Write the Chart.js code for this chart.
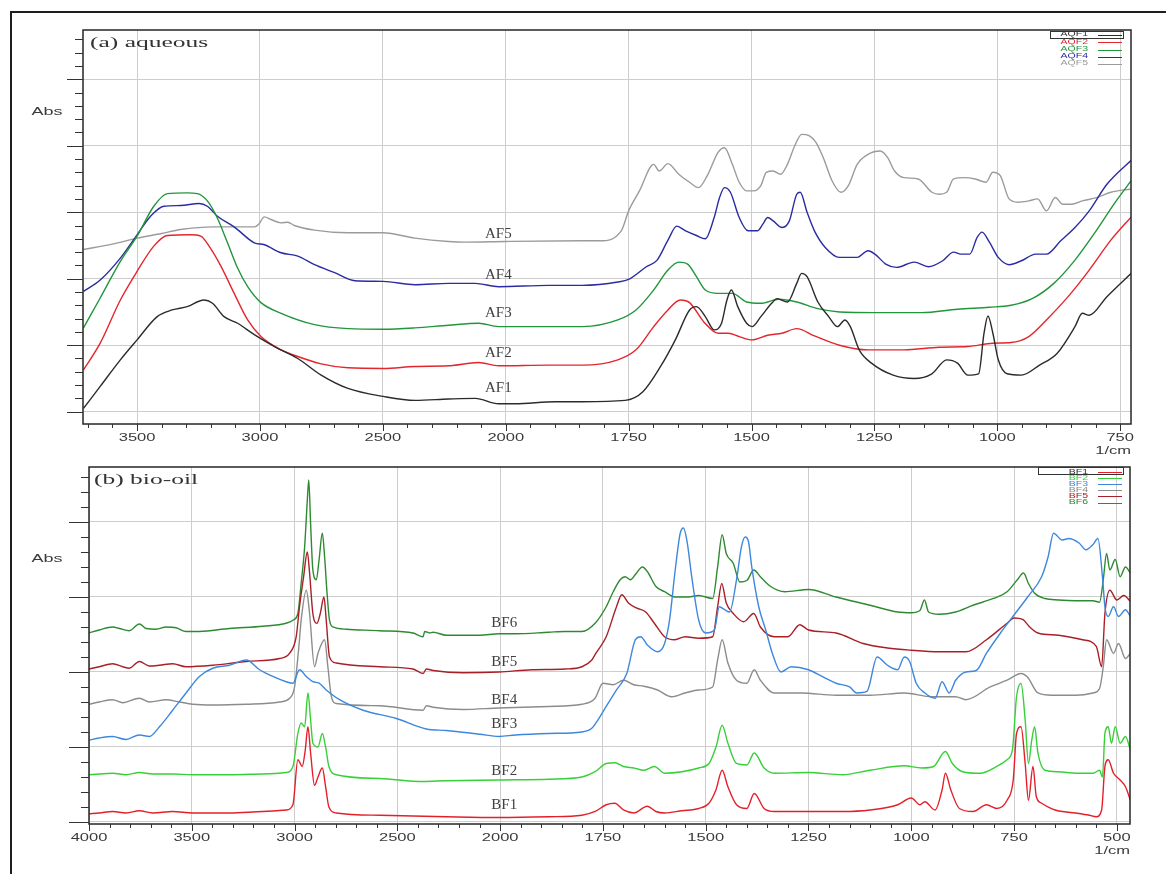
<!DOCTYPE html>
<html>
<head>
<meta charset="utf-8">
<title>FTIR spectra</title>
<script src="https://cdn.jsdelivr.net/npm/chart.js@4.4.1/dist/chart.umd.min.js"></script>
<style>
  html, body { margin: 0; padding: 0; background: #ffffff; }
  #page { position: relative; width: 1166px; height: 874px; overflow: hidden; background: #fff; }
  #frame { position: absolute; left: 10px; top: 11px; width: 1300px; height: 1000px;
           border-left: 2px solid #1e1e1e; border-top: 2px solid #1e1e1e; }
  canvas { position: absolute; left: 0; }
  #cA { top: 0; }
  #cB { top: 462px; }
</style>
</head>
<body>
<div id="page">
  <div id="frame"></div>
  <canvas id="cA" width="1166" height="462"></canvas>
  <canvas id="cB" width="1166" height="412"></canvas>
</div>
<script>
// ---------------- (a) aqueous fractions: [wavenumber (1/cm), absorbance] ----------------
const aqueousNames  = ['AF1', 'AF2', 'AF3', 'AF4', 'AF5'];
const aqueousLegend = ['AQF1', 'AQF2', 'AQF3', 'AQF4', 'AQF5'];
const aqueousColors = ['#2b2b2b', '#e3262e', '#22963c', '#2b2ba3', '#9b9b9b'];
const aqueousTicks  = [3500, 3000, 2500, 2000, 1750, 1500, 1250, 1000, 750];

const af1 = [[3718,0.05],[3650,0.38],[3568,0.78],[3500,1.08],[3418,1.43],[3357,1.53],[3296,1.58],[3228,1.68],[3193,1.63],[3146,1.43],[3091,1.33],[3023,1.16],[2941,0.98],[2846,0.8],[2751,0.55],[2642,0.35],[2499,0.23],[2369,0.17],[2233,0.19],[2124,0.2],[2029,0.12],[1981,0.12],[1899,0.15],[1844,0.15],[1757,0.17],[1721,0.3],[1685,0.68],[1655,1.08],[1626,1.53],[1612,1.58],[1594,1.43],[1576,1.23],[1561,1.33],[1550,1.68],[1541,1.83],[1528,1.58],[1510,1.33],[1499,1.28],[1481,1.43],[1459,1.63],[1448,1.7],[1427,1.65],[1408,1.93],[1398,2.08],[1387,2.03],[1365,1.65],[1343,1.43],[1325,1.28],[1310,1.38],[1299,1.28],[1281,0.93],[1256,0.73],[1212,0.55],[1169,0.5],[1133,0.57],[1103,0.78],[1081,0.73],[1060,0.55],[1038,0.57],[1027,1.18],[1019,1.44],[1009,1.18],[998,0.78],[980,0.57],[951,0.55],[914,0.7],[878,0.88],[842,1.28],[827,1.48],[813,1.45],[777,1.73],[725,2.1]];
const af2 = [[3718,0.63],[3650,1.03],[3568,1.68],[3500,2.11],[3432,2.49],[3377,2.65],[3282,2.66],[3241,2.64],[3207,2.49],[3159,2.19],[3105,1.78],[3050,1.38],[2996,1.13],[2914,0.93],[2846,0.83],[2751,0.72],[2642,0.66],[2499,0.65],[2369,0.68],[2233,0.69],[2110,0.74],[2029,0.69],[1913,0.7],[1844,0.7],[1772,0.78],[1735,0.93],[1699,1.28],[1670,1.53],[1645,1.68],[1626,1.64],[1597,1.35],[1568,1.18],[1547,1.18],[1525,1.13],[1499,1.08],[1467,1.15],[1438,1.18],[1408,1.25],[1372,1.14],[1321,1.0],[1263,0.93],[1190,0.93],[1118,0.97],[1060,0.98],[1009,1.03],[972,1.04],[936,1.13],[900,1.38],[856,1.73],[813,2.13],[769,2.58],[725,2.95]];
const af3 = [[3718,1.26],[3650,1.71],[3568,2.26],[3500,2.64],[3432,3.09],[3377,3.28],[3296,3.29],[3255,3.28],[3214,3.17],[3173,2.91],[3132,2.54],[3091,2.16],[3050,1.88],[2996,1.64],[2914,1.48],[2778,1.31],[2642,1.25],[2499,1.24],[2369,1.26],[2233,1.3],[2110,1.33],[2029,1.28],[1913,1.28],[1844,1.28],[1772,1.38],[1735,1.53],[1699,1.83],[1670,2.13],[1648,2.25],[1630,2.22],[1612,2.03],[1594,1.83],[1568,1.78],[1539,1.78],[1510,1.65],[1481,1.63],[1445,1.69],[1408,1.65],[1365,1.55],[1321,1.5],[1249,1.49],[1154,1.49],[1081,1.54],[1016,1.57],[972,1.6],[929,1.7],[885,1.93],[842,2.28],[798,2.73],[762,3.13],[725,3.5]];
const af4 = [[3718,1.81],[3650,1.98],[3568,2.31],[3500,2.66],[3445,2.94],[3391,3.09],[3323,3.1],[3248,3.13],[3214,3.09],[3173,2.94],[3105,2.78],[3023,2.54],[2982,2.51],[2914,2.39],[2846,2.34],[2778,2.21],[2696,2.09],[2614,1.97],[2499,1.96],[2369,1.91],[2233,1.93],[2124,1.93],[2029,1.88],[1913,1.9],[1844,1.9],[1772,1.95],[1750,1.99],[1714,2.18],[1692,2.28],[1670,2.58],[1652,2.79],[1634,2.72],[1612,2.65],[1594,2.6],[1576,2.92],[1565,3.22],[1555,3.37],[1543,3.3],[1525,2.92],[1507,2.72],[1488,2.72],[1477,2.82],[1467,2.92],[1456,2.87],[1438,2.77],[1423,2.87],[1408,3.27],[1401,3.3],[1387,3.0],[1372,2.72],[1350,2.47],[1321,2.32],[1285,2.32],[1263,2.42],[1249,2.37],[1227,2.22],[1205,2.17],[1169,2.25],[1140,2.18],[1111,2.27],[1089,2.4],[1074,2.37],[1056,2.37],[1041,2.62],[1031,2.7],[1016,2.55],[998,2.32],[976,2.21],[951,2.27],[922,2.37],[900,2.37],[871,2.57],[842,2.77],[813,3.02],[777,3.42],[725,3.8]];
const af5 = [[3718,2.44],[3600,2.52],[3500,2.61],[3400,2.68],[3323,2.74],[3187,2.78],[3022,2.78],[3005,2.82],[2982,2.93],[2955,2.89],[2914,2.84],[2887,2.85],[2860,2.8],[2778,2.73],[2642,2.69],[2499,2.69],[2369,2.61],[2233,2.56],[2165,2.55],[2000,2.56],[1844,2.57],[1808,2.57],[1765,2.72],[1750,3.02],[1728,3.32],[1699,3.72],[1688,3.62],[1670,3.73],[1648,3.57],[1626,3.45],[1608,3.37],[1590,3.55],[1568,3.9],[1555,3.97],[1539,3.72],[1525,3.45],[1510,3.32],[1496,3.32],[1481,3.4],[1470,3.6],[1456,3.62],[1441,3.57],[1427,3.72],[1412,4.0],[1398,4.17],[1383,4.15],[1369,4.05],[1354,3.82],[1336,3.47],[1318,3.3],[1303,3.4],[1285,3.72],[1263,3.87],[1238,3.92],[1223,3.82],[1209,3.62],[1190,3.52],[1161,3.5],[1133,3.3],[1118,3.27],[1103,3.3],[1089,3.5],[1067,3.52],[1045,3.5],[1023,3.45],[1009,3.6],[994,3.55],[976,3.2],[958,3.15],[936,3.17],[918,3.2],[900,3.02],[882,3.22],[867,3.12],[849,3.12],[827,3.17],[798,3.22],[769,3.3],[728,3.35]];

// ---------------- (b) bio-oil fractions ----------------
const bioNames  = ['BF1', 'BF2', 'BF3', 'BF4', 'BF5', 'BF6'];
const bioLegend = ['BF1', 'BF2', 'BF3', 'BF4', 'BF5', 'BF6'];
const bioColors = ['#e3202a', '#38d038', '#3d88de', '#8c8c8c', '#a81f27', '#2e8a32'];
const bioTicks  = [4000, 3500, 3000, 2500, 2000, 1750, 1500, 1250, 1000, 750, 500];

const bf1 = [[4000,0.11],[3950,0.12],[3885,0.14],[3820,0.12],[3755,0.15],[3690,0.12],[3593,0.14],[3495,0.12],[3317,0.12],[3154,0.14],[3041,0.16],[3008,0.23],[2984,0.83],[2963,0.74],[2948,0.96],[2935,1.27],[2922,0.92],[2903,0.49],[2886,0.6],[2865,0.72],[2849,0.47],[2833,0.2],[2797,0.12],[2586,0.09],[2424,0.08],[2261,0.07],[2005,0.06],[1882,0.07],[1801,0.09],[1769,0.14],[1742,0.23],[1721,0.25],[1700,0.16],[1675,0.12],[1642,0.21],[1621,0.14],[1600,0.12],[1558,0.15],[1517,0.18],[1492,0.25],[1475,0.43],[1460,0.69],[1446,0.47],[1425,0.23],[1400,0.18],[1382,0.38],[1358,0.18],[1333,0.14],[1250,0.14],[1167,0.14],[1100,0.16],[1033,0.23],[1000,0.32],[979,0.23],[967,0.27],[942,0.16],[925,0.43],[917,0.65],[904,0.43],[883,0.18],[850,0.14],[817,0.23],[792,0.18],[767,0.29],[752,0.56],[744,1.18],[733,1.27],[723,0.78],[715,0.29],[704,0.74],[696,0.34],[683,0.25],[650,0.16],[600,0.12],[567,0.09],[550,0.07],[537,0.16],[529,0.74],[521,0.83],[508,0.65],[492,0.56],[479,0.47],[467,0.29]];
const bf2 = [[4000,0.63],[3950,0.64],[3885,0.65],[3820,0.63],[3755,0.66],[3690,0.64],[3593,0.64],[3495,0.63],[3317,0.63],[3154,0.64],[3041,0.66],[3008,0.74],[2984,1.18],[2968,1.32],[2951,1.27],[2935,1.72],[2922,1.36],[2911,1.05],[2886,1.0],[2865,1.18],[2849,1.0],[2833,0.74],[2797,0.63],[2586,0.58],[2375,0.54],[2261,0.55],[2005,0.56],[1882,0.57],[1801,0.6],[1769,0.67],[1742,0.78],[1721,0.79],[1700,0.74],[1675,0.72],[1650,0.69],[1625,0.74],[1600,0.65],[1558,0.67],[1517,0.72],[1492,0.78],[1475,1.0],[1460,1.29],[1446,1.05],[1425,0.78],[1400,0.76],[1382,0.92],[1358,0.72],[1333,0.65],[1250,0.66],[1167,0.63],[1100,0.69],[1017,0.75],[975,0.72],[946,0.74],[917,0.94],[900,0.78],[875,0.67],[833,0.65],[792,0.74],[767,0.83],[754,0.96],[744,1.67],[733,1.85],[723,1.36],[715,0.78],[707,1.09],[700,1.27],[692,0.92],[675,0.69],[642,0.67],[600,0.65],[558,0.65],[542,0.69],[535,0.6],[529,1.18],[521,1.27],[513,1.05],[504,1.27],[492,1.05],[479,1.14],[467,0.96]];
const bf3 = [[4000,1.09],[3950,1.12],[3885,1.14],[3820,1.1],[3755,1.16],[3706,1.14],[3657,1.27],[3593,1.49],[3528,1.72],[3463,1.94],[3398,2.05],[3317,2.09],[3235,2.16],[3170,2.03],[3106,1.94],[3041,1.87],[3008,1.85],[2976,2.03],[2943,1.94],[2911,1.87],[2881,1.85],[2846,1.76],[2781,1.63],[2667,1.49],[2505,1.38],[2359,1.24],[2261,1.22],[2099,1.17],[2005,1.14],[1963,1.16],[1882,1.18],[1801,1.2],[1777,1.25],[1767,1.32],[1742,1.54],[1717,1.76],[1692,1.98],[1671,2.43],[1658,2.47],[1642,2.36],[1617,2.27],[1600,2.38],[1588,2.69],[1575,3.32],[1562,3.85],[1554,3.92],[1546,3.76],[1533,3.23],[1517,2.69],[1500,2.52],[1479,2.56],[1467,2.87],[1454,2.83],[1442,2.8],[1425,3.23],[1413,3.67],[1404,3.8],[1396,3.74],[1388,3.4],[1371,2.87],[1354,2.56],[1338,2.25],[1317,2.0],[1292,2.07],[1250,2.03],[1217,1.94],[1183,1.85],[1150,1.8],[1133,1.72],[1108,1.74],[1083,2.2],[1058,2.09],[1033,2.03],[1017,2.2],[1004,2.14],[988,1.85],[967,1.72],[942,1.65],[925,1.87],[908,1.72],[892,1.89],[867,2.0],[842,2.02],[817,2.25],[783,2.52],[750,2.76],[717,3.0],[683,3.27],[667,3.54],[654,3.85],[633,3.76],[617,3.78],[592,3.72],[575,3.63],[558,3.7],[546,3.78],[535,3.27],[529,2.87],[521,2.74],[508,2.87],[496,2.74],[479,2.83],[467,2.74]];
const bf4 = [[4000,1.57],[3950,1.6],[3885,1.63],[3836,1.59],[3755,1.65],[3706,1.6],[3625,1.63],[3560,1.6],[3495,1.57],[3398,1.56],[3235,1.57],[3073,1.6],[3024,1.65],[3000,1.8],[2979,2.34],[2968,2.69],[2943,3.09],[2927,2.78],[2903,2.07],[2886,2.25],[2854,2.43],[2838,2.07],[2821,1.67],[2797,1.58],[2586,1.55],[2375,1.49],[2359,1.55],[2326,1.53],[2180,1.5],[2005,1.52],[1882,1.54],[1801,1.57],[1769,1.65],[1750,1.85],[1725,1.83],[1700,1.89],[1675,1.83],[1650,1.81],[1617,1.76],[1583,1.67],[1550,1.72],[1517,1.76],[1483,1.8],[1471,2.16],[1460,2.43],[1446,2.12],[1425,1.89],[1400,1.85],[1382,2.03],[1367,1.89],[1333,1.72],[1267,1.72],[1183,1.69],[1100,1.69],[1017,1.72],[950,1.67],[892,1.67],[867,1.63],[808,1.8],[767,1.89],[733,1.98],[717,1.93],[692,1.72],[658,1.69],[600,1.69],[558,1.72],[542,1.78],[533,2.07],[525,2.43],[508,2.25],[496,2.38],[479,2.18],[467,2.25]];
const bf5 = [[4000,2.04],[3950,2.07],[3885,2.11],[3836,2.07],[3804,2.05],[3755,2.14],[3706,2.08],[3657,2.09],[3593,2.11],[3528,2.07],[3398,2.09],[3235,2.14],[3073,2.18],[3024,2.25],[2992,2.47],[2976,2.87],[2956,3.27],[2938,3.6],[2927,3.32],[2911,2.78],[2891,2.65],[2875,2.78],[2857,3.0],[2846,2.69],[2830,2.2],[2797,2.12],[2586,2.07],[2424,2.04],[2375,1.98],[2359,2.04],[2326,2.02],[2180,1.99],[2005,2.0],[1923,2.03],[1842,2.04],[1801,2.07],[1777,2.16],[1767,2.25],[1742,2.47],[1717,2.87],[1704,3.03],[1688,2.92],[1667,2.85],[1646,2.8],[1625,2.65],[1600,2.47],[1575,2.43],[1550,2.47],[1517,2.45],[1483,2.47],[1471,2.87],[1461,3.18],[1450,2.92],[1433,2.78],[1408,2.67],[1383,2.78],[1367,2.6],[1333,2.47],[1300,2.47],[1271,2.63],[1250,2.56],[1183,2.52],[1117,2.38],[1058,2.32],[1000,2.29],[933,2.27],[867,2.27],[817,2.43],[767,2.65],[750,2.72],[729,2.7],[712,2.6],[692,2.52],[642,2.49],[583,2.43],[550,2.34],[537,2.07],[529,2.78],[517,3.09],[500,2.96],[483,3.02],[467,2.94]];
const bf6 = [[4000,2.52],[3950,2.56],[3885,2.6],[3852,2.58],[3804,2.55],[3755,2.64],[3722,2.58],[3674,2.57],[3625,2.6],[3576,2.59],[3528,2.54],[3463,2.54],[3317,2.58],[3154,2.61],[3041,2.65],[3008,2.69],[2984,2.78],[2968,3.18],[2951,3.67],[2938,4.29],[2931,4.56],[2922,3.98],[2911,3.36],[2894,3.23],[2881,3.49],[2865,3.85],[2854,3.54],[2843,3.09],[2830,2.69],[2813,2.6],[2748,2.57],[2586,2.55],[2424,2.52],[2375,2.47],[2367,2.54],[2343,2.52],[2326,2.53],[2261,2.49],[2099,2.49],[2005,2.51],[1963,2.51],[1882,2.53],[1842,2.54],[1801,2.54],[1769,2.65],[1742,2.87],[1725,3.07],[1708,3.23],[1696,3.27],[1683,3.23],[1671,3.3],[1654,3.4],[1642,3.34],[1621,3.14],[1600,3.07],[1575,3.0],[1542,3.0],[1517,3.02],[1483,2.98],[1471,3.4],[1460,3.83],[1450,3.58],[1433,3.45],[1417,3.2],[1400,3.22],[1383,3.36],[1367,3.27],[1342,3.14],[1308,3.07],[1250,3.1],[1183,3.0],[1100,2.89],[1033,2.8],[1000,2.79],[979,2.82],[968,2.96],[958,2.8],[933,2.77],[892,2.8],[850,2.89],[800,2.98],[767,3.07],[742,3.23],[727,3.32],[715,3.18],[700,3.05],[675,2.98],[642,2.96],[600,2.95],[558,2.95],[542,2.93],[533,3.23],[525,3.58],[517,3.36],[504,3.5],[492,3.27],[479,3.4],[467,3.32]];

// ---------------- panel layout ----------------
const PANELS = {
  cA: {
    series: [af1, af2, af3, af4, af5], names: aqueousNames, legend: aqueousLegend, colors: aqueousColors,
    xTicks: aqueousTicks, xMin: 728, xMax: 3720, yMin: -0.185, yMax: 5.74, yMajor: [0, 1, 2, 3, 4, 5],
    padding: { top: 30, right: 35, left: 0, bottom: 0 }, yAxisWidth: 83, xAxisHeight: 38,
    title: '(a) aqueous', titleX: 90, titleY: 43, absY: 112, labelY: 438, unitY: 451,
    yMajorLen: 16, yMinorLen: 8,
    legendRows: [34.5, 42, 49.5, 56.5, 63.5], legendBox: [1050, 31, 73, 7],
    tagAt: 2030, tagLevels: [0.36, 0.88, 1.48, 2.06, 2.67]
  },
  cB: {
    series: [bf1, bf2, bf3, bf4, bf5, bf6], names: bioNames, legend: bioLegend, colors: bioColors,
    xTicks: bioTicks, xMin: 468, xMax: 4000, yMin: -0.027, yMax: 4.733, yMajor: [0, 1, 2, 3, 4],
    padding: { top: 5, right: 36, left: 0, bottom: 0 }, yAxisWidth: 89, xAxisHeight: 50,
    title: '(b) bio-oil', titleX: 94, titleY: 18, absY: 97, labelY: 376, unitY: 389,
    yMajorLen: 20, yMinorLen: 8,
    legendRows: [10, 16, 22, 28, 34, 40.5], legendBox: [1038, 5, 85, 7],
    tagAt: 1990, tagLevels: [0.23, 0.68, 1.31, 1.63, 2.13, 2.65]
  }
};

// ---------------- wavenumber scale: 500 cm-1 per unit above 2000, 250 below ----------------
const BREAK = 2000;
class WaveScale extends Chart.LinearScale {
  units(v) {
    return v >= BREAK ? (this.max - v) / 500 : (this.max - BREAK) / 500 + (BREAK - v) / 250;
  }
  buildTicks() {
    return PANELS[this.chart.canvas.id].xTicks.map(v => ({ value: v }));
  }
  getPixelForValue(v) {
    return this.getPixelForDecimal(this.units(v) / this.units(this.min));
  }
  getValueForPixel(p) {
    const u = this.getDecimalForPixel(p) * this.units(this.min);
    const upper = (this.max - BREAK) / 500;
    return u <= upper ? this.max - u * 500 : BREAK - (u - upper) * 250;
  }
}
WaveScale.id = 'wave';
WaveScale.defaults = {};
Chart.register(WaveScale);

// horizontally widened text, as the spectrometer software prints it
function wideText(ctx, text, x, y, sx, align) {
  ctx.save();
  ctx.translate(x, y);
  ctx.scale(sx, 1);
  ctx.textAlign = align;
  ctx.fillText(text, 0, 0);
  ctx.restore();
}

// frame, tick marks, tick labels, titles, curve tags and the small legend
const decor = {
  id: 'decor',
  afterDraw(chart) {
    const p = PANELS[chart.canvas.id];
    const ctx = chart.ctx, a = chart.chartArea, xs = chart.scales.x, ys = chart.scales.y;
    ctx.save();

    ctx.strokeStyle = '#262626';
    ctx.lineWidth = 1.5;
    ctx.strokeRect(a.left, a.top, a.right - a.left, a.bottom - a.top);

    // y tick marks: every 0.2, long ones on whole units
    ctx.lineWidth = 1;
    ctx.strokeStyle = '#333';
    ctx.beginPath();
    for (let k = Math.ceil(p.yMin / 0.2); k * 0.2 <= p.yMax + 1e-9; k++) {
      const v = k * 0.2;
      const y = Math.round(ys.getPixelForValue(v)) + 0.5;
      const len = (k % 5 === 0) ? p.yMajorLen : p.yMinorLen;
      ctx.moveTo(a.left - len, y);
      ctx.lineTo(a.left, y);
    }
    // x tick marks: every 100 above 2000, every 50 below
    const marks = [];
    for (let w = Math.floor(p.xMax / 100) * 100; w > BREAK; w -= 100) marks.push(w);
    for (let w = BREAK; w >= p.xMin; w -= 50) marks.push(w);
    marks.forEach(w => {
      const x = Math.round(xs.getPixelForValue(w)) + 0.5;
      const len = p.xTicks.includes(w) ? 7 : 4;
      ctx.moveTo(x, a.bottom);
      ctx.lineTo(x, a.bottom + len);
    });
    ctx.stroke();

    // tick labels and unit
    ctx.fillStyle = '#3a3a3a';
    ctx.textBaseline = 'middle';
    ctx.font = '11px "Liberation Sans", Arial, sans-serif';
    p.xTicks.forEach(w => wideText(ctx, String(w), xs.getPixelForValue(w), p.labelY, 1.5, 'center'));
    wideText(ctx, '1/cm', a.right, p.unitY, 1.5, 'right');
    ctx.font = '10px "Liberation Sans", Arial, sans-serif';
    wideText(ctx, 'Abs', 47, p.absY, 1.8, 'center');

    // panel title
    ctx.fillStyle = '#333';
    ctx.font = '15px "Liberation Serif", "Times New Roman", serif';
    wideText(ctx, p.title, p.titleX, p.titleY, 1.7, 'left');

    // curve tags
    ctx.fillStyle = '#404040';
    ctx.font = '15px "Liberation Serif", "Times New Roman", serif';
    ctx.textAlign = 'center';
    p.names.forEach((n, i) => {
      ctx.fillText(n, xs.getPixelForValue(p.tagAt), ys.getPixelForValue(p.tagLevels[i]));
    });

    // legend
    ctx.font = '7px "Liberation Sans", Arial, sans-serif';
    p.legend.forEach((t, i) => {
      const y = p.legendRows[i];
      ctx.fillStyle = i === 0 ? '#333' : p.colors[i];
      wideText(ctx, t, 1088, y, 1.5, 'right');
      ctx.strokeStyle = p.colors[i];
      ctx.lineWidth = 1;
      ctx.beginPath();
      ctx.moveTo(1098, Math.round(y) + 0.5);
      ctx.lineTo(1122, Math.round(y) + 0.5);
      ctx.stroke();
    });
    const b = p.legendBox;
    ctx.strokeStyle = '#333';
    ctx.lineWidth = 1;
    ctx.strokeRect(b[0] + 0.5, b[1] + 0.5, b[2], b[3]);

    ctx.restore();
  }
};

function buildPanel(id) {
  const p = PANELS[id];
  return new Chart(document.getElementById(id), {
    type: 'line',
    data: {
      datasets: p.series.map((s, i) => ({
        label: p.legend[i],
        data: s,
        borderColor: p.colors[i],
        borderWidth: 1.4,
        pointRadius: 0,
        fill: false,
        cubicInterpolationMode: 'monotone'
      }))
    },
    options: {
      responsive: false,
      animation: false,
      devicePixelRatio: 1,
      events: [],
      layout: { padding: p.padding },
      scales: {
        x: {
          type: 'wave', min: p.xMin, max: p.xMax,
          grid: { color: '#cdcdcd', lineWidth: 1, drawTicks: false },
          border: { display: false },
          ticks: { display: false },
          afterFit: s => { s.height = p.xAxisHeight; }
        },
        y: {
          type: 'linear', min: p.yMin, max: p.yMax,
          afterBuildTicks: s => { s.ticks = p.yMajor.map(v => ({ value: v })); },
          grid: { color: '#cdcdcd', lineWidth: 1, drawTicks: false },
          border: { display: false },
          ticks: { display: false },
          afterFit: s => { s.width = p.yAxisWidth; }
        }
      },
      plugins: { legend: { display: false }, tooltip: { enabled: false } }
    },
    plugins: [decor]
  });
}

buildPanel('cA');
buildPanel('cB');
</script>
</body>
</html>
